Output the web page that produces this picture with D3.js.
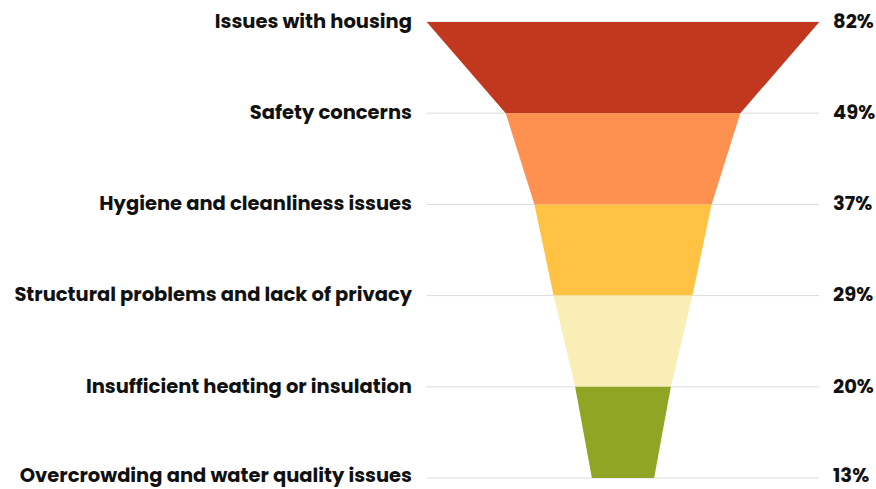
<!DOCTYPE html>
<html>
<head>
<meta charset="utf-8">
<script src="https://cdn.jsdelivr.net/npm/d3@7"></script>
<style>
  body { margin: 0; background: #fff; }
  text { font-family: Poppins, Inter, "DejaVu Sans", sans-serif; font-weight: 700; fill: #111; }
</style>
</head>
<body>
<svg id="chart" width="876" height="489"></svg>
<script>
const categories = [
  "Issues with housing",
  "Safety concerns",
  "Hygiene and cleanliness issues",
  "Structural problems and lack of privacy",
  "Insufficient heating or insulation",
  "Overcrowding and water quality issues"
];
const values = [82, 49, 37, 29, 20, 13];
const colors = ["#c1381f", "#ff9150", "#ffc242", "#f9eeb6", "#91a524"];

const svg = d3.select("#chart");
const centerX = 623;

const y = d3.scalePoint()
  .domain(categories)
  .range([22, 478]);

const w = d3.scaleLinear()
  .domain([0, 82])
  .range([0, 392.6]);

// labels on the last row sit a touch higher so descenders stay inside the frame
const labelDy = (i) => i === categories.length - 1 ? "0.18em" : "0.3em";

// gridlines
svg.append("g")
  .selectAll("line")
  .data(categories)
  .enter().append("line")
    .attr("x1", 427)
    .attr("x2", 819)
    .attr("y1", d => y(d))
    .attr("y2", d => y(d))
    .attr("stroke", "#dcdcdc")
    .attr("stroke-width", 1);

// funnel segments: each goes from its level to the next
const segs = d3.range(categories.length - 1).map(i => ({
  y0: y(categories[i]), y1: y(categories[i + 1]),
  v0: values[i], v1: values[i + 1], color: colors[i]
}));

svg.append("g")
  .selectAll("path")
  .data(segs)
  .enter().append("path")
    .attr("fill", d => d.color)
    .attr("d", d => {
      const a = w(d.v0) / 2, b = w(d.v1) / 2;
      return `M${centerX - a},${d.y0}L${centerX + a},${d.y0}L${centerX + b},${d.y1}L${centerX - b},${d.y1}Z`;
    });

// left labels
svg.append("g")
  .selectAll("text")
  .data(categories)
  .enter().append("text")
    .attr("x", 412)
    .attr("y", d => y(d))
    .attr("dy", (d, i) => labelDy(i))
    .attr("text-anchor", "end")
    .attr("font-size", 19.5)
    .text(d => d);

// right value labels
svg.append("g")
  .selectAll("text")
  .data(values)
  .enter().append("text")
    .attr("x", 833)
    .attr("y", (d, i) => y(categories[i]))
    .attr("dy", (d, i) => labelDy(i))
    .attr("font-size", 19.5)
    .text(d => d + "%");
</script>
</body>
</html>
